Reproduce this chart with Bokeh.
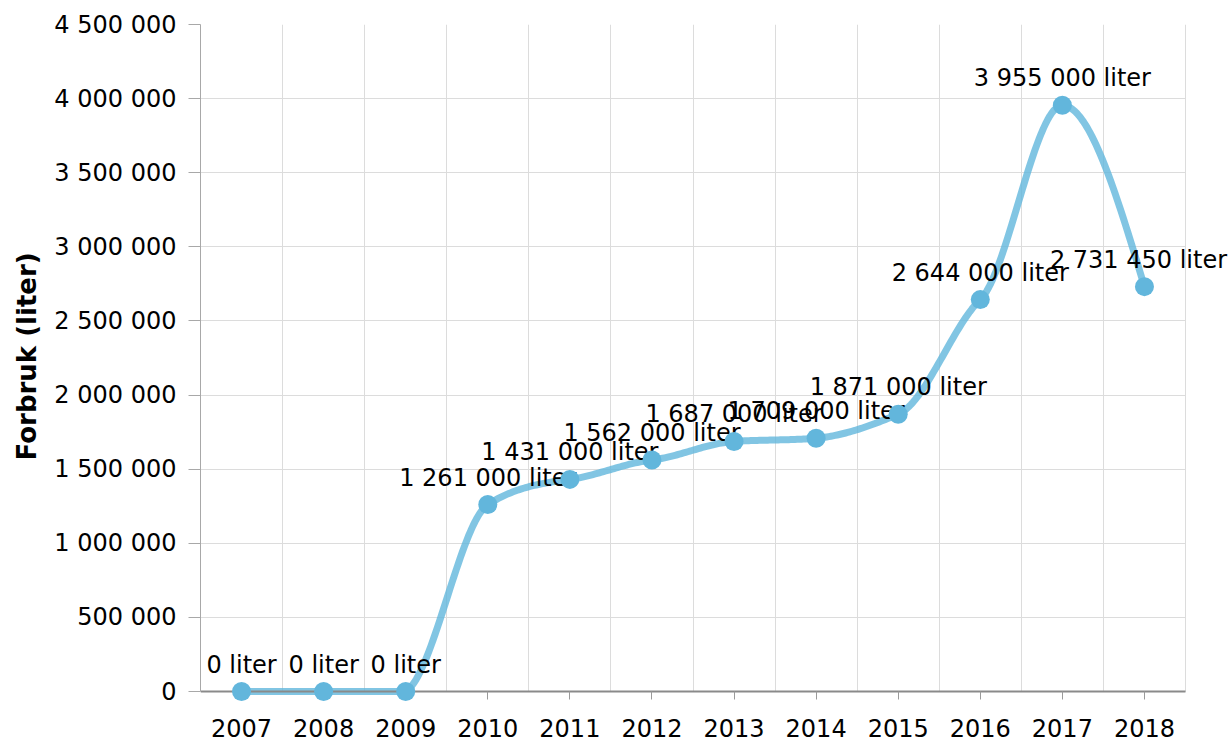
import numpy as np
from bokeh.plotting import figure
from bokeh.models import Range1d, FixedTicker, ColumnDataSource, LabelSet, Title
from bokeh.core.properties import value
from bokeh.embed import file_html
from bokeh.resources import INLINE

# ---- data ----
years = ["2007", "2008", "2009", "2010", "2011", "2012",
         "2013", "2014", "2015", "2016", "2017", "2018"]
values = [0, 0, 0, 1261000, 1431000, 1562000,
          1687000, 1709000, 1871000, 2644000, 3955000, 2731450]
y_ticks = [0, 500000, 1000000, 1500000, 2000000,
           2500000, 3000000, 3500000, 4000000, 4500000]
y_tick_labels = ["0", "500 000", "1 000 000", "1 500 000", "2 000 000",
                 "2 500 000", "3 000 000", "3 500 000", "4 000 000", "4 500 000"]
unit = "liter"
y_title = "Forbruk (liter)"

# ---- styling ----
FONT = "DejaVu Sans"
BLUE = "#62b6dc"
Y_MAX = 4500000
PAD_BELOW = Y_MAX * 51 / 667          # room under the zero line for markers / x labels
label_shift = [0, 0, 0, 0, 0, 0, 0, 0, 0, 0, 0, -6]  # keep last label on the page

n = len(years)
X_MAX = n * (1231 - 200) / 985        # frame runs to the page edge; axis/grid stop at n
xs = np.arange(n) + 0.5
ys = np.array(values, dtype=float)
labels = [f"{v:,}".replace(",", " ") + " " + unit for v in values]


def spline(x, y, tension=0.5, samples=40):
    m = np.zeros(len(y))
    for i in range(1, len(y) - 1):
        a, b, c = y[i - 1], y[i], y[i + 1]
        if (b > a and b > c) or (b < a and b < c):
            m[i] = 0.0
        else:
            m[i] = (1 - tension) * (c - a) / (x[i + 1] - x[i - 1])
    m[0] = (3 * (y[1] - y[0]) / (x[1] - x[0]) - m[1]) / 2
    m[-1] = (3 * (y[-1] - y[-2]) / (x[-1] - x[-2]) - m[-2]) / 2
    px, py = [], []
    for i in range(len(y) - 1):
        dx = x[i + 1] - x[i]
        lo, hi = min(y[i], y[i + 1]), max(y[i], y[i + 1])
        c0x, c0y = x[i] + dx / 3, np.clip(y[i] + m[i] * dx / 3, lo, hi)
        c1x, c1y = x[i + 1] - dx / 3, np.clip(y[i + 1] - m[i + 1] * dx / 3, lo, hi)
        t = np.linspace(0, 1, samples)
        bx = (1 - t) ** 3 * x[i] + 3 * (1 - t) ** 2 * t * c0x + 3 * (1 - t) * t ** 2 * c1x + t ** 3 * x[i + 1]
        by = (1 - t) ** 3 * y[i] + 3 * (1 - t) ** 2 * t * c0y + 3 * (1 - t) * t ** 2 * c1y + t ** 3 * y[i + 1]
        px.extend(bx.tolist())
        py.extend(by.tolist())
    return px, py


p = figure(width=1231, height=742, output_backend="svg", toolbar_location=None,
           x_range=Range1d(0, X_MAX), y_range=Range1d(-PAD_BELOW, Y_MAX),
           min_border_left=200, min_border_right=0, min_border_top=24, min_border_bottom=0)
p.outline_line_color = None
p.background_fill_color = "white"
p.border_fill_color = "white"

# grids
p.ygrid.ticker = FixedTicker(ticks=y_ticks)
p.ygrid.grid_line_color = "#dcdcdc"
p.ygrid.cross_bounds = (0, n)
p.xgrid.ticker = FixedTicker(ticks=list(range(1, n + 1)))
p.xgrid.grid_line_color = "#dcdcdc"
p.xgrid.cross_bounds = (0, Y_MAX)

# y axis
yax = p.yaxis[0]
yax.ticker = FixedTicker(ticks=y_ticks)
yax.major_label_overrides = {t: l for t, l in zip(y_ticks, y_tick_labels)}
yax.bounds = (0, Y_MAX)
yax.axis_line_color = "#a8a8a8"
yax.major_tick_line_color = "#a8a8a8"
yax.major_tick_out = 12
yax.major_tick_in = 0
yax.minor_tick_line_color = None
yax.major_label_standoff = 12
yax.major_label_text_font = FONT
yax.major_label_text_font_size = "24px"
yax.major_label_text_color = "black"

# y title, centred on the plotted 0..max span
p.add_layout(Title(text=y_title, align="left", offset=282, standoff=19,
                   text_font=FONT, text_font_size="26px", text_font_style="bold",
                   text_color="black"), "left")

# x axis
xax = p.xaxis[0]
xax.fixed_location = 0
xax.bounds = (0, n)
xax.ticker = FixedTicker(ticks=xs.tolist())
xax.major_label_overrides = {float(x): yr for x, yr in zip(xs, years)}
xax.axis_line_color = "#8a8a8a"
xax.axis_line_width = 2
xax.major_tick_line_color = "#9a9a9a"
xax.major_tick_out = 8
xax.major_tick_in = 0
xax.minor_tick_line_color = None
xax.major_label_standoff = 19
xax.major_label_text_font = FONT
xax.major_label_text_font_size = "24px"
xax.major_label_text_color = "black"

# line
lx, ly = spline(xs, ys)
p.line(lx, ly, line_color=BLUE, line_alpha=0.8, line_width=7,
       line_join="round", line_cap="round")

src = ColumnDataSource(dict(x=xs, y=ys, label=labels, dx=label_shift))
p.add_layout(LabelSet(x="x", y="y", text="label", source=src,
                      text_align="center", text_baseline="alphabetic",
                      x_offset="dx", y_offset=19,
                      text_font=value(FONT), text_font_size=value("24px"),
                      text_color="black"))

pts = p.scatter("x", "y", source=src, size=19, fill_color=BLUE, line_color=None)
pts.level = "overlay"

open("out.html", "w").write(file_html(p, INLINE))
